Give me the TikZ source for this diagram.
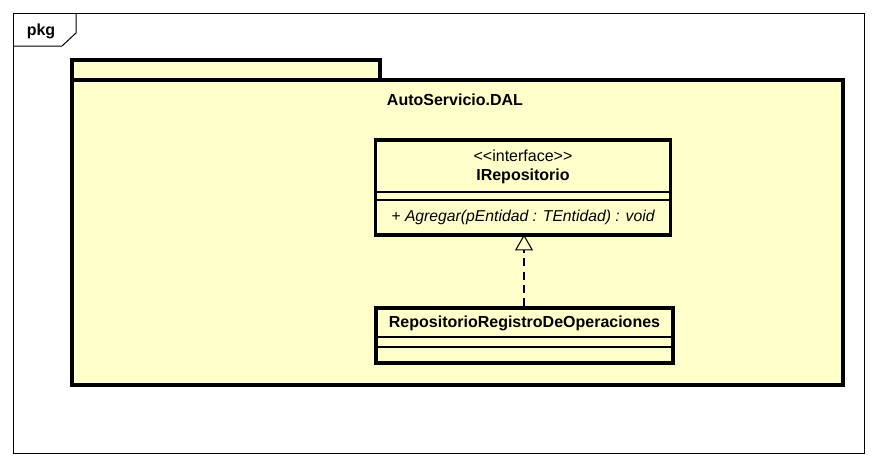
\documentclass[tikz,border=0pt]{standalone}
\usepackage{fontspec}
\setmainfont{Liberation Sans}
\usetikzlibrary{arrows.meta}
\definecolor{umlfill}{HTML}{FFFFCC}
\begin{document}
\begin{tikzpicture}[x=0.75pt,y=-0.75pt,
  thickline/.style={line width=2.4pt, draw=black},
  thinline/.style={line width=0.8pt, draw=black},
  classbox/.style={thickline, fill=umlfill, rectangle, inner sep=0pt},
  lbl/.style={inner sep=0pt, font=\fontsize{12}{14}\selectfont},
  blbl/.style={inner sep=0pt, font=\bfseries\fontsize{12}{14}\selectfont},
  realize/.style={thinline, dash pattern=on 6pt off 4pt, -{Triangle[open, length=12pt, width=13.5pt, line width=0.8pt]}}
]
\useasboundingbox (0,0) rectangle (877,468);
% outer frame
\draw[line width=0.75pt, draw=black] (13,13) rectangle (864,453);
\draw[line width=0.75pt, draw=black] (13,46) -- (62,46) -- (76,33) -- (76,13);
\node[blbl] (pkg) at (41,31) {pkg};
% package
\draw[classbox] (72,60) rectangle (380,80);
\draw[classbox] (72,80) rectangle (843,385);
\node[blbl] (pkgname) at (455,100) {AutoServicio.DAL};
% interface
\node[classbox, minimum width=295*0.75pt, minimum height=95*0.75pt] (iface) at (523,187.5) {};
\draw[thinline] (376,192) -- (670,192);
\draw[thinline] (376,200) -- (670,200);
\node[lbl] (stereo) at (523,156) {<{}<interface>{}>};
\node[blbl] (ifname) at (523,176) {IRepositorio};
\node[lbl, font=\itshape\fontsize{11.8}{14}\selectfont] (op) at (523,217) {+ Agregar(pEntidad : TEntidad) : void};
% class
\node[classbox, minimum width=297*0.75pt, minimum height=55*0.75pt] (cls) at (524.5,335.5) {};
\draw[thinline] (376,337) -- (673,337);
\draw[thinline] (376,347) -- (673,347);
\node[blbl] (clsname) at (524.5,323) {RepositorioRegistroDeOperaciones};
% realization
\coordinate (tip) at (iface.south -| 524,0);
\draw[realize] (cls.north -| 524,0) -- ([yshift=1.6pt]tip);
\end{tikzpicture}
\end{document}
